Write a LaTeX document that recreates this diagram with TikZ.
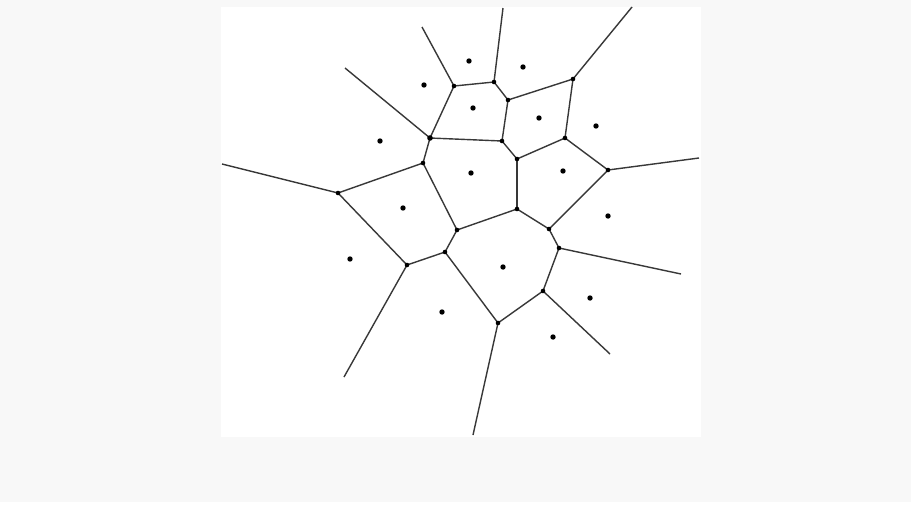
\documentclass[tikz,border=0pt]{standalone}
\begin{document}
\begin{tikzpicture}[x=1pt,y=-1pt,
  edge/.style={draw=black!78,line width=1.4pt},
  site/.style={circle,fill=black,inner sep=0pt,minimum size=5.4pt},
  vtx/.style={circle,fill=black,inner sep=0pt,minimum size=4.6pt}]
\fill[fill={rgb,255:red,248;green,248;blue,248}] (0,0) rectangle (911,504);
\useasboundingbox (0,0) rectangle (911,504);
\fill[white] (0,502) rectangle (911,504);
\fill[white] (221,7) rectangle (701,437);
% vertices
\coordinate (V1) at (454,86);
\coordinate (V2) at (430,138);
\coordinate (V3) at (423,163);
\coordinate (V4) at (338,193);
\coordinate (V5) at (494,82);
\coordinate (V6) at (573,79);
\coordinate (V7) at (508,100);
\coordinate (V8) at (502,141);
\coordinate (V9) at (565,138);
\coordinate (V10) at (517,159);
\coordinate (V11) at (608,170);
\coordinate (V12) at (517,209);
\coordinate (V13) at (457,230);
\coordinate (V14) at (445,252);
\coordinate (V15) at (407,265);
\coordinate (V16) at (549,229);
\coordinate (V17) at (559,248);
\coordinate (V18) at (543,291);
\coordinate (V19) at (498,323);
% ray ends
\coordinate (R1) at (422,27);
\coordinate (R2) at (503,8);
\coordinate (R3) at (632,7);
\coordinate (R4) at (345,68);
\coordinate (R5) at (222,164);
\coordinate (R6) at (699,158);
\coordinate (R7) at (681,274);
\coordinate (R8) at (610,354);
\coordinate (R9) at (473,435);
\coordinate (R10) at (344,377);
% edges
\path[edge] (R1) -- (V1) -- (V5) -- (R2);
\path[edge] (V5) -- (V7) -- (V6) -- (R3);
\path[edge] (V6) -- (V9);
\path[edge] (V7) -- (V8);
\path[edge] (V1) -- (V2);
\path[edge] (R4) -- (V2);
\path[edge] (V2) -- (V8);
\path[edge] (V2) -- (V3);
\path[edge] (V8) -- (V10) -- (V9) -- (V11) -- (R6);
\path[edge] (V10) -- (V12);
\path[edge] (V3) -- (V4) -- (R5);
\path[edge] (V3) -- (V13);
\path[edge] (V4) -- (V15);
\path[edge] (V13) -- (V12);
\path[edge] (V13) -- (V14) -- (V15) -- (R10);
\path[edge] (V14) -- (V19);
\path[edge] (V12) -- (V16) -- (V11);
\path[edge] (V16) -- (V17) -- (R7);
\path[edge] (V17) -- (V18) -- (V19) -- (R9);
\path[edge] (V18) -- (R8);
% vertex dots
\foreach \v in {V1,V3,V4,V5,V6,V7,V8,V9,V10,V11,V12,V13,V14,V15,V16,V17,V18,V19}
  \node[vtx] at (\v) {};
\node[vtx,minimum size=5.6pt] at (V2) {};
% sites
\node[site] (s1) at (469,61) {};
\node[site] (s2) at (523,67) {};
\node[site] (s3) at (424,85) {};
\node[site] (s4) at (473,108) {};
\node[site] (s5) at (539,118) {};
\node[site] (s6) at (596,126) {};
\node[site] (s7) at (380,141) {};
\node[site] (s8) at (471,173) {};
\node[site] (s9) at (563,171) {};
\node[site] (s10) at (403,208) {};
\node[site] (s11) at (608,216) {};
\node[site] (s12) at (350,259) {};
\node[site] (s13) at (503,267) {};
\node[site] (s14) at (590,298) {};
\node[site] (s15) at (442,312) {};
\node[site] (s16) at (553,337) {};
\end{tikzpicture}
\end{document}
